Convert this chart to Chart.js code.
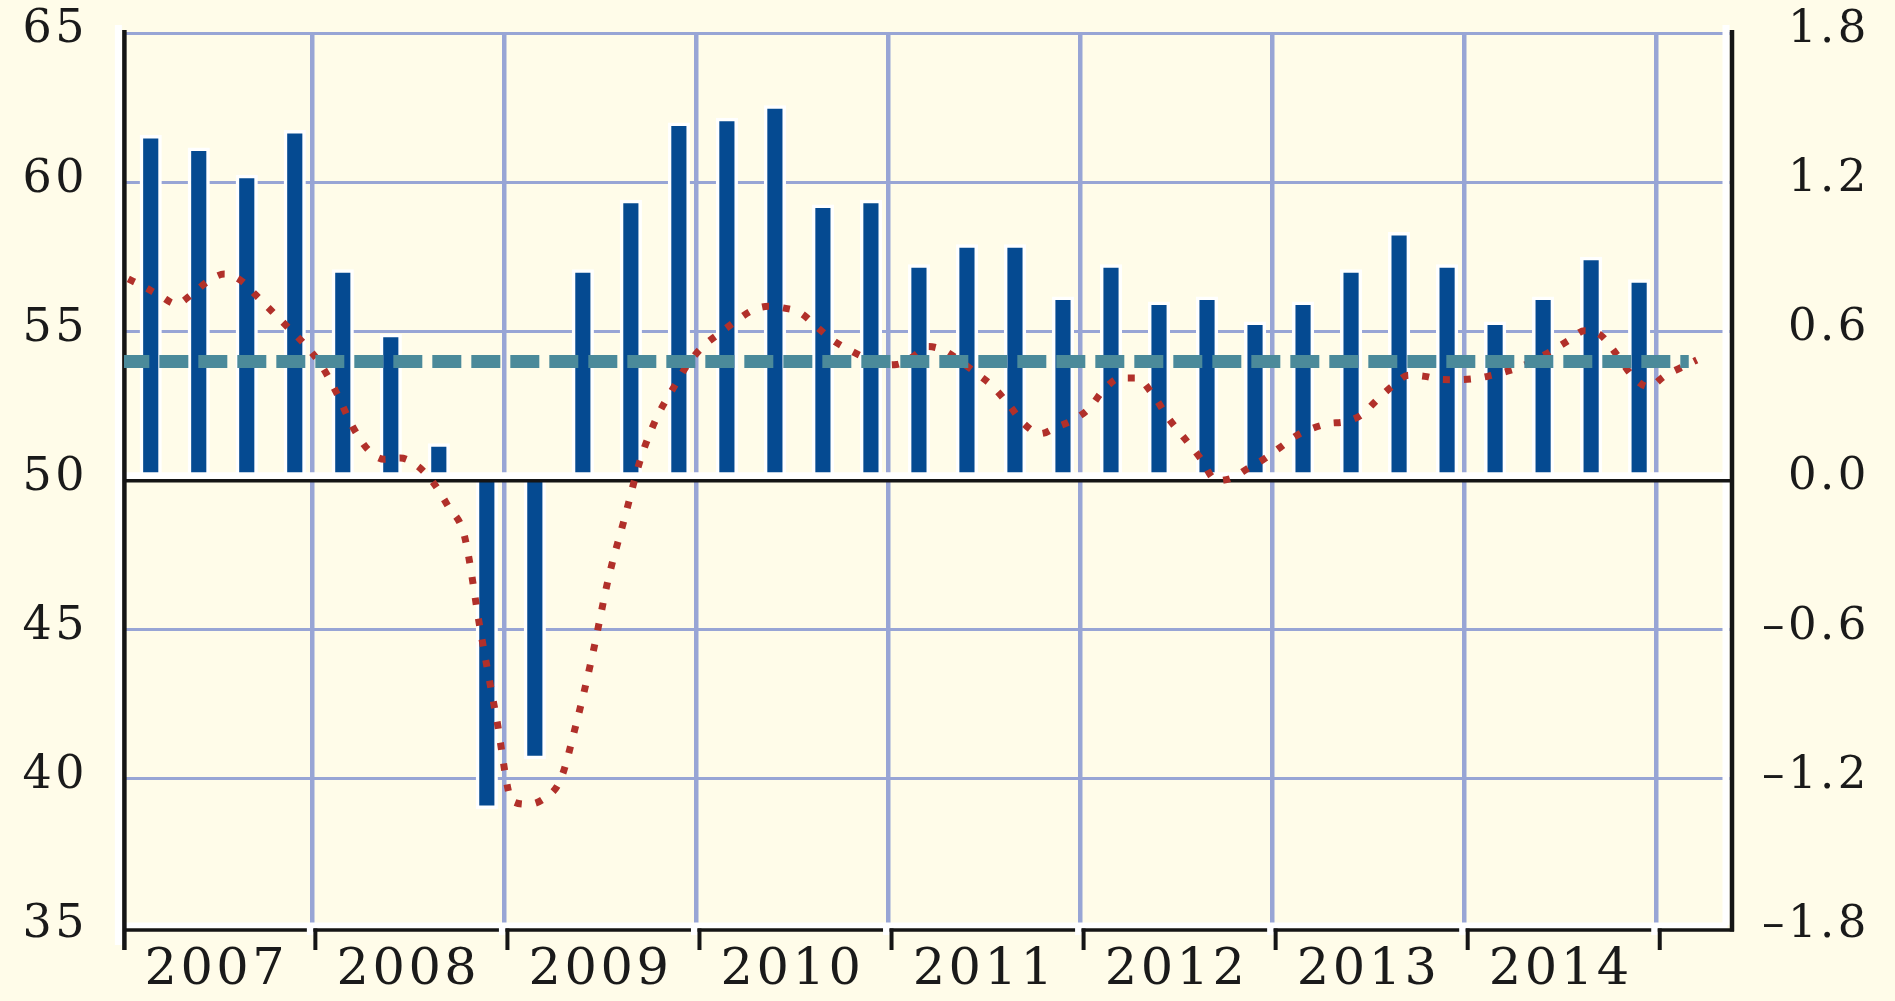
<!DOCTYPE html>
<html>
<head>
<meta charset="utf-8">
<script src="https://cdn.jsdelivr.net/npm/chart.js@4.4.1/dist/chart.umd.min.js"></script>
<style>
  html, body { margin: 0; padding: 0; background: #fffce9; }
  canvas { display: block; }
</style>
</head>
<body>
<canvas id="c" width="1895" height="1001"></canvas>
<script>
// ---------------- data ----------------
const years = ['2007', '2008', '2009', '2010', '2011', '2012', '2013', '2014'];
const leftTicks = [35, 40, 45, 50, 55, 60, 65];
const rightTicks = [-1.8, -1.2, -0.6, 0, 0.6, 1.2, 1.8];

// monthly index, Jan 2007 .. Mar 2015 (left axis)
const pmi = [
  56.77, 56.50, 56.20, 55.93, 56.27, 56.70, 56.93, 56.73, 56.21, 55.67, 55.13, 54.58,
  53.92, 52.96, 51.83, 51.03, 50.72, 50.76, 50.52, 49.98, 49.13, 48.15, 44.98, 42.05,
  39.25, 39.15, 39.35, 39.97, 41.88, 44.15, 46.73, 48.73, 50.72, 52.10, 53.06, 53.94,
  54.55, 54.97, 55.37, 55.72, 55.85, 55.79, 55.63, 55.17, 54.72, 54.40, 54.13, 53.88,
  53.90, 54.15, 54.50, 54.36, 54.00, 53.60, 53.17, 52.56, 51.89, 51.58, 51.80, 52.03,
  52.41, 53.08, 53.45, 53.45, 52.90, 52.09, 51.42, 50.75, 50.00, 50.10, 50.43, 50.74,
  51.13, 51.52, 51.76, 51.92, 51.98, 52.19, 52.70, 53.18, 53.54, 53.50, 53.40, 53.39,
  53.42, 53.51, 53.65, 53.82, 54.08, 54.38, 54.71, 55.03, 54.88, 54.23, 53.50, 53.15,
  53.52, 53.79, 54.05
];

// quarterly growth, 2007Q1 .. 2014Q4 (right axis)
const gdp = [
  1.39, 1.34, 1.23, 1.41,
  0.85, 0.59, 0.15, -1.32,
  -1.12, 0.85, 1.13, 1.44,
  1.46, 1.51, 1.11, 1.13,
  0.87, 0.95, 0.95, 0.74,
  0.87, 0.72, 0.74, 0.64,
  0.72, 0.85, 1.00, 0.87,
  0.64, 0.74, 0.90, 0.81
];

// long-run average level of the index (left axis)
const avgLevel = 54.0;

// ---------------- layout / style ----------------
const BG = '#fffce9';
const GRID = '#98a5d5';
const BAR = '#054a91';
const TEAL = '#4b8a9a';
const RED = '#b1302a';
const INK = '#151515';
const TEXT = '#1a1a1a';
const FONT = 'DejaVu Serif';
const LETTER_SPACING = '3.5px';

const XMIN = 0.23;          // months from Jan 2007
const XMAX = 100.64;
const QUARTER_CENTER = 1.9; // bar position inside its quarter (months)

const xTicks = [];
years.forEach((y, k) => { xTicks.push(12 * k + 6, 12 * k + 12); });

const fmtRight = v => (v < 0 ? '\u2013' : '') + Math.abs(v).toFixed(1);

const framePlugin = {
  id: 'frame',
  beforeDraw(chart) {
    const ctx = chart.ctx;
    ctx.save();
    ctx.fillStyle = BG;
    ctx.fillRect(0, 0, chart.width, chart.height);
    ctx.restore();
    ctx.letterSpacing = LETTER_SPACING;
  },
  afterDraw(chart) {
    chart.ctx.letterSpacing = '0px';
  },
  afterDatasetDraw(chart, args) {
    if (args.meta.type !== 'bar') return;
    const { ctx, chartArea: ca, scales } = chart;
    const zeroY = scales.y2.getPixelForValue(0);
    const leftX = ca.left + 0.4;
    const rightX = ca.right + 1;
    const topY = ca.top - 3.5;
    const botY = ca.bottom + 2;
    const tickBot = botY + 20;
    const line = (x1, y1, x2, y2, w, col) => {
      ctx.strokeStyle = col; ctx.lineWidth = w;
      ctx.beginPath(); ctx.moveTo(x1, y1); ctx.lineTo(x2, y2); ctx.stroke();
    };
    ctx.save();
    ctx.lineCap = 'butt';
    // white offsets (up / left of each black rule)
    line(ca.left - 6.5, zeroY - 5, rightX - 6.5, zeroY - 5, 7, '#ffffff');
    line(ca.left - 6.5, botY - 4.5, rightX - 4.5, botY - 4.5, 6, '#ffffff');
    line(leftX - 6, topY - 5, leftX - 6, tickBot - 5, 7, '#ffffff');
    line(rightX - 6, topY - 5, rightX - 6, botY - 5, 7, '#ffffff');
    // black horizontals
    line(ca.left, zeroY, rightX, zeroY, 3.3, INK);
    line(ca.left, botY, rightX + 2, botY, 3.3, INK);
    // year brackets
    for (let k = 1; k <= years.length; k++) {
      const x = scales.x.getPixelForValue(12 * k) + 3;
      ctx.fillStyle = '#ffffff';
      ctx.fillRect(x - 8.5, botY - 4, 6.5, 9);
      line(x, botY - 1.5, x, tickBot, 4, INK);
    }
    // black verticals
    line(leftX, topY, leftX, tickBot, 4.5, INK);
    line(rightX, topY, rightX, botY + 1.6, 4.5, INK);
    ctx.restore();
  }
};

const noVerticalOverflow = s => { s.paddingTop = 0; s.paddingBottom = 0; };

new Chart(document.getElementById('c'), {
  type: 'bar',
  data: {
    datasets: [
      {
        type: 'bar',
        label: 'Quarterly growth',
        data: gdp.map((v, q) => ({ x: 3 * q + QUARTER_CENTER, y: v })),
        xAxisID: 'x',
        yAxisID: 'y2',
        backgroundColor: BAR,
        borderColor: '#ffffff',
        borderWidth: 3.5,
        borderSkipped: 'start',
        barThickness: 21.5,
        order: 3
      },
      {
        type: 'line',
        label: 'Index',
        data: pmi.map((v, i) => ({ x: i + 0.5, y: v })),
        xAxisID: 'x',
        yAxisID: 'y',
        borderColor: RED,
        borderWidth: 7,
        borderDash: [7, 14],
        borderCapStyle: 'butt',
        pointRadius: 0,
        cubicInterpolationMode: 'monotone',
        fill: false,
        order: 2
      },
      {
        type: 'line',
        label: 'Average',
        data: [{ x: 0, y: avgLevel }, { x: pmi.length - 1, y: avgLevel }],
        xAxisID: 'x',
        yAxisID: 'y',
        borderColor: TEAL,
        borderWidth: 13,
        borderDash: [29, 10],
        borderCapStyle: 'butt',
        pointRadius: 0,
        fill: false,
        order: 1
      }
    ]
  },
  options: {
    responsive: false,
    animation: false,
    devicePixelRatio: 1,
    layout: { padding: { top: 33.5, right: 25, bottom: 0, left: 0 } },
    plugins: { legend: { display: false }, tooltip: { enabled: false } },
    scales: {
      x: {
        type: 'linear',
        position: 'bottom',
        min: XMIN,
        max: XMAX,
        offset: false,
        grid: {
          offset: false,
          drawTicks: false,
          lineWidth: 4.5,
          color: c => (c.tick && c.tick.value % 12 === 0) ? GRID : 'rgba(0,0,0,0)'
        },
        border: { display: false },
        afterBuildTicks: axis => { axis.ticks = xTicks.map(v => ({ value: v })); },
        ticks: {
          autoSkip: false,
          maxRotation: 0,
          minRotation: 0,
          padding: 12,
          color: TEXT,
          font: { family: FONT, size: 51 },
          callback: v => (v % 12 === 6) ? years[(v - 6) / 12] : ''
        },
        afterFit: s => { s.height = 73; s.paddingLeft = 0; s.paddingRight = 0; }
      },
      y: {
        type: 'linear',
        position: 'left',
        min: 35,
        max: 65,
        grid: {
          drawTicks: false,
          lineWidth: 3,
          color: c => (c.tick && c.tick.value === 35) ? 'rgba(0,0,0,0)' : GRID
        },
        border: { display: false },
        afterBuildTicks: axis => { axis.ticks = leftTicks.map(v => ({ value: v })); },
        ticks: {
          padding: 36,
          labelOffset: -3,
          color: TEXT,
          font: { family: FONT, size: 46 },
          callback: v => String(v)
        },
        afterFit: s => { s.width = 124; noVerticalOverflow(s); }
      },
      y2: {
        type: 'linear',
        position: 'right',
        min: -1.8,
        max: 1.8,
        grid: { display: false, drawTicks: false },
        border: { display: false },
        afterBuildTicks: axis => { axis.ticks = rightTicks.map(v => ({ value: v })); },
        ticks: {
          crossAlign: 'far',
          padding: 0,
          labelOffset: -3,
          color: TEXT,
          font: { family: FONT, size: 45 },
          callback: v => fmtRight(v)
        },
        afterFit: s => { s.width = 139; noVerticalOverflow(s); }
      }
    }
  },
  plugins: [framePlugin]
});
</script>
</body>
</html>
